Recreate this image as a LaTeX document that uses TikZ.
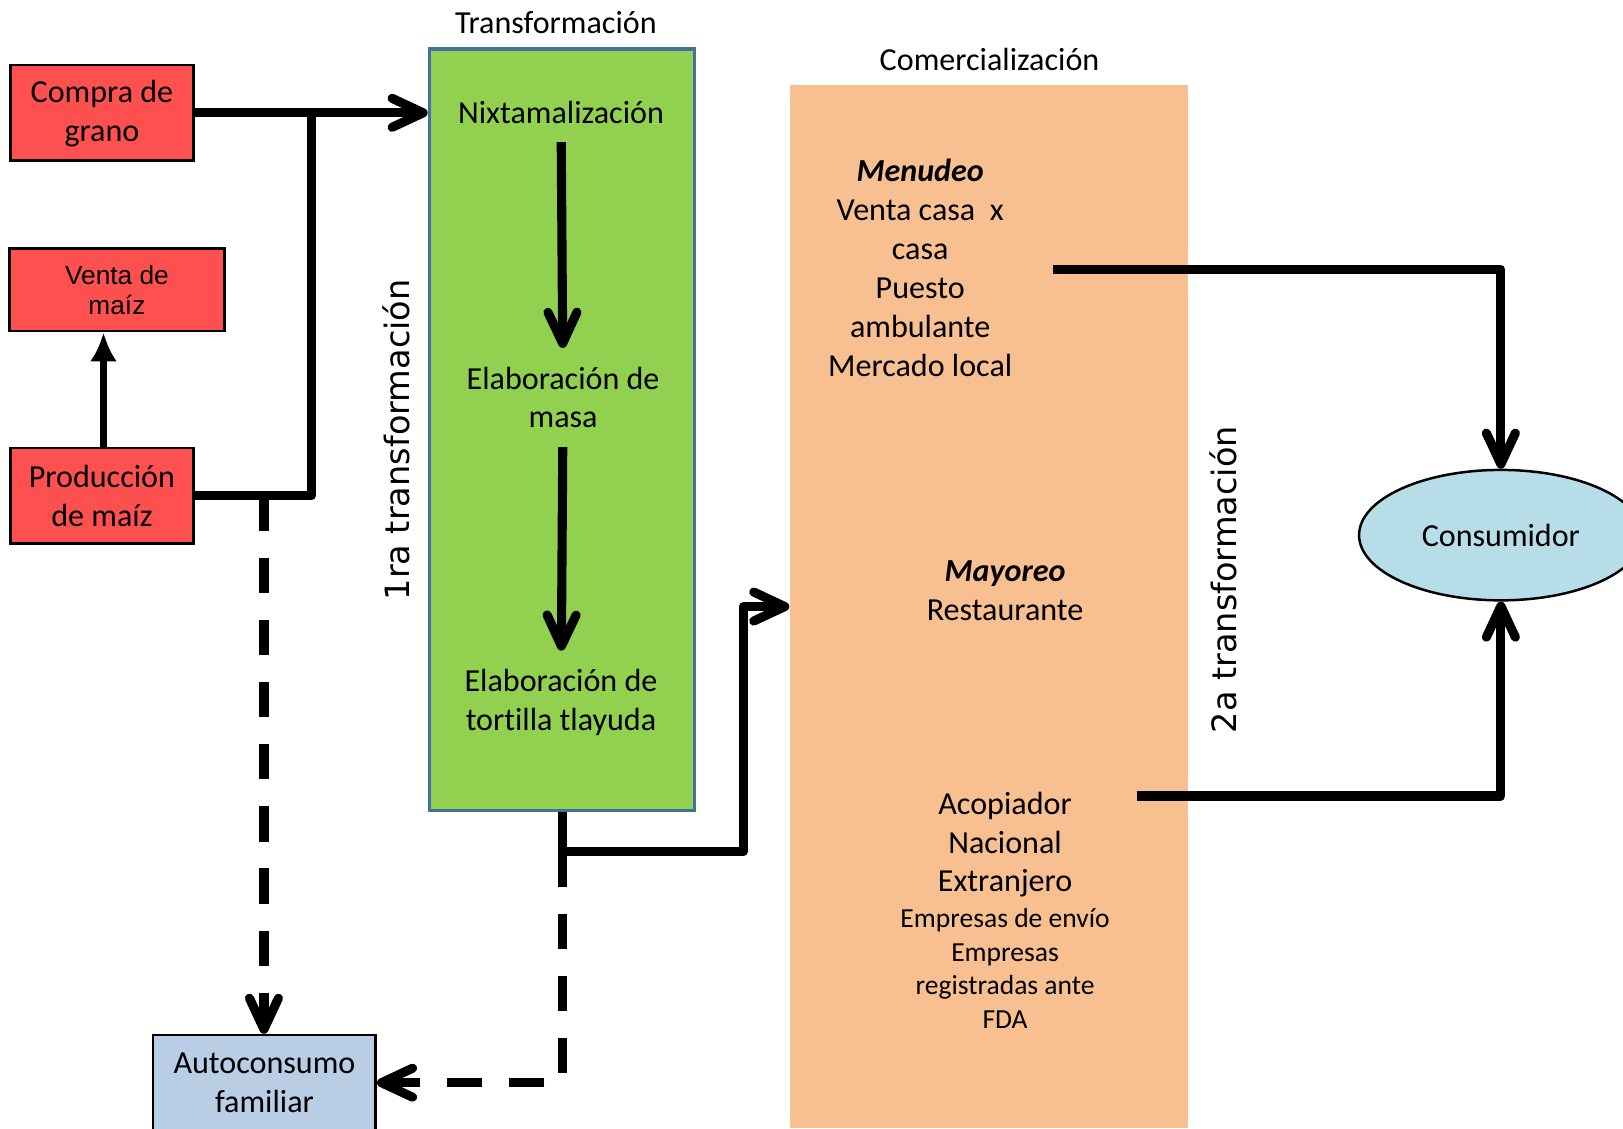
\documentclass[tikz,border=0pt]{standalone}
\usepackage{fontspec}
\setmainfont{Carlito}[Ligatures=NoCommon]
\newfontfamily\arialfont{Liberation Sans}
\newfontfamily\verdanafont{DejaVu Sans}
\usepackage{xcolor}
\usepackage{tikz}
\usetikzlibrary{shapes.geometric,arrows.meta}
\definecolor{rojo}{HTML}{FF5050}
\definecolor{verde}{HTML}{92D050}
\definecolor{bordeverde}{HTML}{41719C}
\definecolor{naranja}{HTML}{F8C090}
\definecolor{celeste}{HTML}{B7DEE8}
\definecolor{azulgris}{HTML}{B9CDE5}
\tikzstyle{redblock} = [rectangle, draw, line width=1.2pt, fill=rojo, align=center,
    inner sep=0pt, minimum width=88.5pt, minimum height=46pt, font=\fontsize{15.5}{19}\selectfont]
\tikzstyle{txt} = [align=center, inner sep=0pt, font=\fontsize{15.5}{18.8}\selectfont]
\tikzstyle{small} = [align=center, inner sep=0pt, font=\fontsize{13.3}{16.2}\selectfont]
\tikzstyle{vertical} = [rotate=90, inner sep=0pt, font=\verdanafont\fontsize{16.2}{19}\selectfont]
\tikzstyle{line} = [draw, line width=4.4pt, line join=round,
    -{Straight Barb[length=15pt,width=14pt,round]}]
\tikzstyle{dashline} = [line, dash pattern=on 17pt off 13pt]

\begin{document}
\begin{tikzpicture}[x=0.5pt, y=-0.5pt]
  \useasboundingbox (0,0) rectangle (1568,1090);
  % Place nodes
  \node [rectangle, fill=naranja, minimum width=192.5pt, minimum height=504pt] (comercio) at (955.5,586) {};
  \node [txt] (tittransf) at (537,22) {Transformación};
  \node [txt] (titcomer) at (956,57) {Comercialización};
  \node [redblock, text depth=2pt] (compra) at (98.5,109) {Compra de\\grano};
  \node [redblock, minimum width=104pt, minimum height=40pt, font=\arialfont\fontsize{12.7}{14.5}\selectfont] (venta) at (113,280) {Venta de\\maíz};
  \node [redblock] (produccion) at (98.5,479) {Producción\\de maíz};
  \node [rectangle, draw=bordeverde, line width=1.8pt, fill=verde, minimum width=128pt, minimum height=368pt] (verde) at (543,415) {};
  \node [txt, minimum height=28pt] (nixta) at (542,109) {Nixtamalización};
  \node [txt, minimum height=47.5pt] (masa) at (544,384) {Elaboración de\\masa};
  \node [txt, minimum height=50pt] (tortilla) at (542,679) {Elaboración de\\tortilla tlayuda};
  \node [vertical] (primera) at (383,425) {1ra transformación};
  \node [vertical] (segunda) at (1182,560) {2a transformación};
  \node [txt] (menudeo) at (889,259) {\textbf{\textit{Menudeo}}\\Venta casa\ \ x\\casa\\Puesto\\ambulante\\Mercado local};
  \node [txt] (mayoreo) at (971,571) {\textbf{\textit{Mayoreo}}\\Restaurante};
  \node [txt] (acopiador) at (971,816) {Acopiador\\Nacional\\Extranjero};
  \node [small] (empresas) at (971,935.5) {Empresas de envío\\Empresas\\registradas ante\\FDA};
  \node [ellipse, draw, line width=1.2pt, fill=celeste, minimum width=137pt, minimum height=63pt, inner sep=0pt, font=\fontsize{15.5}{19}\selectfont] (consumidor) at (1450,517) {Consumidor};
  \node [rectangle, draw, line width=1.2pt, fill=azulgris, align=center, inner sep=0pt, minimum width=107.5pt, minimum height=46pt, font=\fontsize{15.5}{19}\selectfont] (autoconsumo) at (255.5,1046) {Autoconsumo\\familiar};
  \coordinate (cruce) at (301,109);
  \coordinate (bajada) at (255,479);
  \coordinate (codo) at (543,823);
  \coordinate (subida) at (718,586);
  \coordinate (menudeofin) at (1017,260);
  \coordinate (acopiofin) at (1098,769);
  % Draw edges
  \path [draw, line width=3pt, -{Latex[length=14pt,width=13pt]}] (produccion.north -| 100,0) -- (venta.south -| 100,0);
  \path [line] (compra) -- (compra -| verde.west);
  \path [draw, line width=4.4pt, line join=round] (produccion) -| (cruce);
  \path [dashline] (bajada) -- (autoconsumo.north -| bajada);
  \path [line] (nixta) -- (masa);
  \path [line] (masa) -- (tortilla);
  \path [line] (verde.south) -- (codo) -| (subida) -- (comercio.west);
  \path [dashline] (codo) |- (autoconsumo.east);
  \path [line] (menudeofin) -| (consumidor.north);
  \path [line] (acopiofin) -| (consumidor.south);
\end{tikzpicture}
\end{document}
